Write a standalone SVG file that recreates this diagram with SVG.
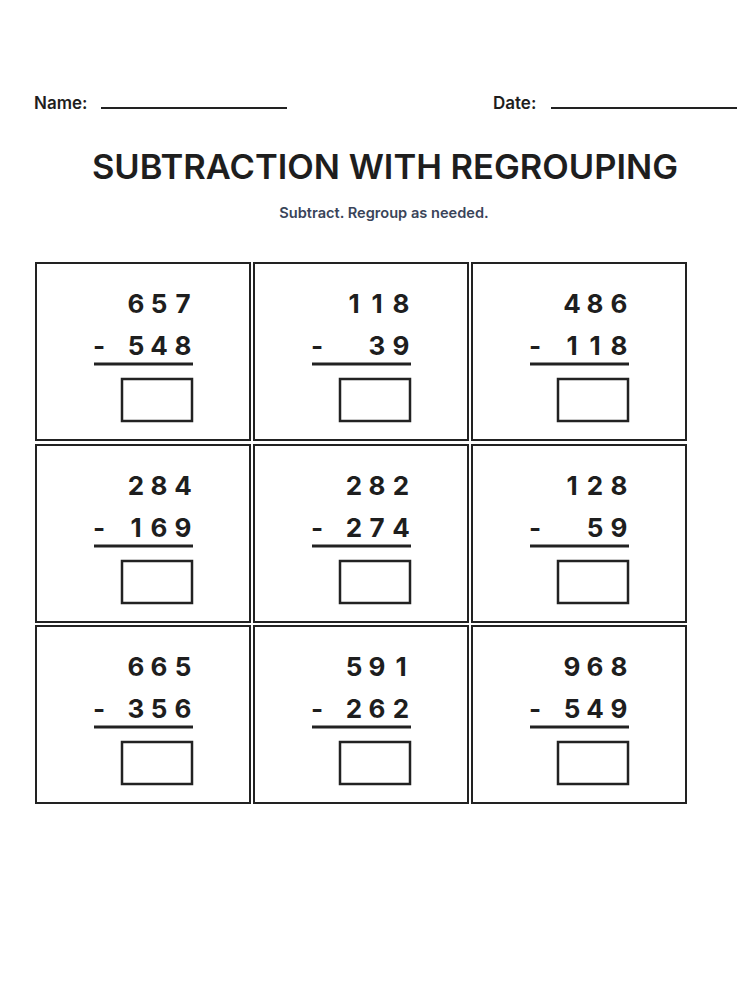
<svg xmlns="http://www.w3.org/2000/svg" width="750" height="1000" viewBox="0 0 750 1000">
<style>
.t{font-family:Inter,"Liberation Sans",sans-serif;font-weight:600;fill:#1e1e1e}
.d{font-family:Inter,"Liberation Sans",sans-serif;font-weight:700;font-size:26px;fill:#1e1e1e;text-anchor:middle}
.c{fill:#fff;stroke:#222;stroke-width:2}
.b{fill:none;stroke:#222;stroke-width:2.5}
.u{stroke:#222;stroke-width:3}
</style>
<rect width="750" height="1000" fill="#fff"/>
<text class="t" x="34" y="109" font-size="17">Name:</text>
<line x1="101" y1="108" x2="287" y2="108" stroke="#222" stroke-width="2"/>
<text class="t" x="493" y="109" font-size="17">Date:</text>
<line x1="551" y1="108" x2="737" y2="108" stroke="#222" stroke-width="2"/>
<text class="t" x="385" y="179" font-size="34.5" text-anchor="middle" font-weight="700">SUBTRACTION WITH REGROUPING</text>
<text class="t" x="384" y="218" font-size="14.6" text-anchor="middle" style="fill:#3a4459">Subtract. Regroup as needed.</text>
<defs>
<g id="frame">
<rect class="c" x="0" y="0" width="214" height="177"/>
<line class="u" x1="58" y1="101" x2="157" y2="101"/>
<rect class="b" x="86" y="116" width="70" height="42"/>
</g>
</defs>
<g id="p1" transform="translate(36,263)"><use href="#frame"/>
<text class="d" y="50"><tspan x="100">6</tspan><tspan x="123">5</tspan><tspan x="147">7</tspan></text>
<text class="d" y="92"><tspan x="63">-</tspan><tspan x="100">5</tspan><tspan x="123">4</tspan><tspan x="147">8</tspan></text></g>
<g id="p2" transform="translate(254,263)"><use href="#frame"/>
<text class="d" y="50"><tspan x="100">1</tspan><tspan x="123">1</tspan><tspan x="147">8</tspan></text>
<text class="d" y="92"><tspan x="63">-</tspan><tspan x="123">3</tspan><tspan x="147">9</tspan></text></g>
<g id="p3" transform="translate(472,263)"><use href="#frame"/>
<text class="d" y="50"><tspan x="100">4</tspan><tspan x="123">8</tspan><tspan x="147">6</tspan></text>
<text class="d" y="92"><tspan x="63">-</tspan><tspan x="100">1</tspan><tspan x="123">1</tspan><tspan x="147">8</tspan></text></g>
<g id="p4" transform="translate(36,445)"><use href="#frame"/>
<text class="d" y="50"><tspan x="100">2</tspan><tspan x="123">8</tspan><tspan x="147">4</tspan></text>
<text class="d" y="92"><tspan x="63">-</tspan><tspan x="100">1</tspan><tspan x="123">6</tspan><tspan x="147">9</tspan></text></g>
<g id="p5" transform="translate(254,445)"><use href="#frame"/>
<text class="d" y="50"><tspan x="100">2</tspan><tspan x="123">8</tspan><tspan x="147">2</tspan></text>
<text class="d" y="92"><tspan x="63">-</tspan><tspan x="100">2</tspan><tspan x="123">7</tspan><tspan x="147">4</tspan></text></g>
<g id="p6" transform="translate(472,445)"><use href="#frame"/>
<text class="d" y="50"><tspan x="100">1</tspan><tspan x="123">2</tspan><tspan x="147">8</tspan></text>
<text class="d" y="92"><tspan x="63">-</tspan><tspan x="123">5</tspan><tspan x="147">9</tspan></text></g>
<g id="p7" transform="translate(36,626)"><use href="#frame"/>
<text class="d" y="50"><tspan x="100">6</tspan><tspan x="123">6</tspan><tspan x="147">5</tspan></text>
<text class="d" y="92"><tspan x="63">-</tspan><tspan x="100">3</tspan><tspan x="123">5</tspan><tspan x="147">6</tspan></text></g>
<g id="p8" transform="translate(254,626)"><use href="#frame"/>
<text class="d" y="50"><tspan x="100">5</tspan><tspan x="123">9</tspan><tspan x="147">1</tspan></text>
<text class="d" y="92"><tspan x="63">-</tspan><tspan x="100">2</tspan><tspan x="123">6</tspan><tspan x="147">2</tspan></text></g>
<g id="p9" transform="translate(472,626)"><use href="#frame"/>
<text class="d" y="50"><tspan x="100">9</tspan><tspan x="123">6</tspan><tspan x="147">8</tspan></text>
<text class="d" y="92"><tspan x="63">-</tspan><tspan x="100">5</tspan><tspan x="123">4</tspan><tspan x="147">9</tspan></text></g>
</svg>
